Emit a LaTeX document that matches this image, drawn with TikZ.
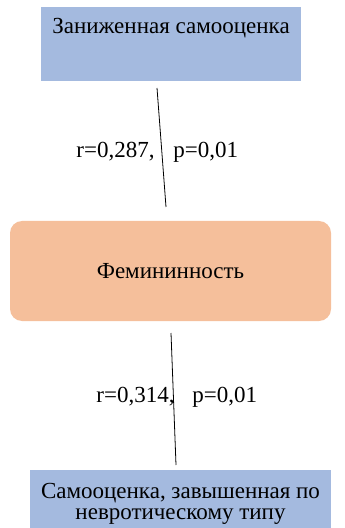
\documentclass[tikz,border=0pt]{standalone}
\usepackage{fontspec}
\setmainfont{LiberationSerif}[Extension=.ttf, UprightFont=*-Regular]
\usetikzlibrary{positioning}
\definecolor{scaleblue}{HTML}{A4BADF}
\definecolor{traitorange}{HTML}{F5BF9B}

\begin{document}
\begin{tikzpicture}[x=0.5pt, y=-0.5pt, font=\rmfamily\fontsize{11.5}{10.5}\selectfont,
      scalebox/.style={fill=scaleblue, inner sep=0pt, align=center},
      trait/.style={fill=traitorange, rounded corners=6pt, inner sep=0pt,
        minimum width=160.5pt, minimum height=50pt},
      stat/.style={inner sep=0pt}]
    \clip (0,0) rectangle (344,528);
    \node[scalebox, anchor=north, minimum width=130pt, text height=13pt, text depth=24pt]
      (low) at (171,7) {Заниженная самооценка};
    \node[trait] (fem) at (170.5,271) {Фемининность};
    \node[scalebox, anchor=north, minimum width=150.5pt, text height=24.5pt, text depth=12pt]
      (neur) at (180.5,470) {Самооценка, завышенная по\\невротическому типу};
    % correlations
    \coordinate (low-s) at (157,88);
    \coordinate (fem-n) at (166,207);
    \draw (low-s) -- (fem-n);
    \node[stat, anchor=east] (r1) at (155,152) {r=0,287,};
    \node[stat, anchor=west] (p1) at (173,152) {p=0,01};
    \coordinate (fem-s) at (171,333);
    \coordinate (neur-n) at (176,465);
    \draw (fem-s) -- (neur-n);
    \node[stat, anchor=east] (r2) at (175,397) {r=0,314,};
    \node[stat, anchor=west] (p2) at (192,397) {p=0,01};
  \end{tikzpicture}
\end{document}
